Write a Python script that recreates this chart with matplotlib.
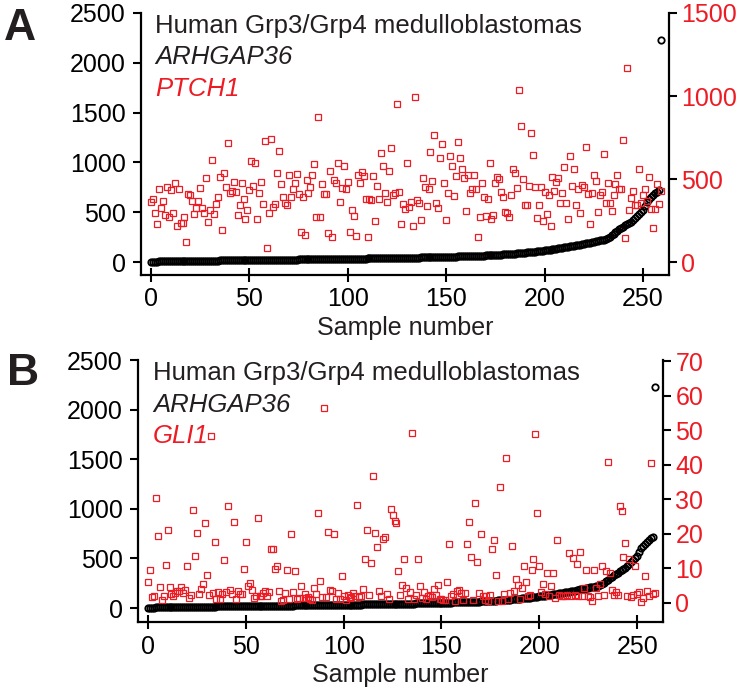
import numpy as np
import matplotlib.pyplot as plt

plt.rcParams['font.family'] = ['Liberation Sans', 'DejaVu Sans']

# ARHGAP36 expression, samples sorted ascending (left axis, both panels)
arhgap36 = [
    3, 4, 5, 5, 6, 6, 7, 7, 8, 8,
    9, 9, 9, 10, 10, 10, 11, 11, 11, 12,
    12, 12, 12, 13, 13, 13, 13, 14, 14, 14,
    14, 15, 15, 15, 15, 16, 16, 16, 16, 17,
    17, 17, 17, 18, 18, 18, 18, 19, 19, 19,
    19, 20, 20, 20, 20, 21, 21, 21, 21, 22,
    22, 22, 22, 23, 23, 23, 23, 24, 24, 24,
    24, 25, 25, 25, 25, 26, 26, 26, 26, 27,
    27, 27, 27, 28, 28, 28, 28, 29, 29, 29,
    29, 30, 30, 30, 30, 31, 31, 31, 32, 32,
    32, 33, 33, 33, 34, 34, 34, 35, 35, 35,
    36, 36, 36, 37, 37, 37, 38, 38, 38, 39,
    39, 39, 40, 40, 40, 41, 41, 42, 42, 42,
    43, 43, 44, 44, 45, 45, 45, 46, 46, 47,
    47, 48, 48, 49, 49, 50, 50, 51, 51, 52,
    52, 53, 53, 54, 54, 55, 56, 56, 57, 57,
    58, 59, 59, 60, 61, 62, 62, 63, 64, 65,
    66, 67, 68, 69, 70, 71, 72, 74, 75, 76,
    78, 79, 81, 82, 84, 85, 87, 89, 91, 93,
    95, 97, 99, 101, 103, 105, 107, 109, 112, 114,
    117, 119, 122, 125, 128, 131, 134, 137, 140, 143,
    147, 150, 153, 157, 160, 164, 168, 171, 175, 179,
    183, 187, 191, 195, 199, 203, 207, 211, 216, 220,
    225, 230, 240, 255, 270, 285, 300, 315, 330, 345,
    355, 370, 385, 395, 405, 420, 440, 460, 480, 500,
    520, 560, 600, 630, 650, 670, 690, 705, 720, 2230,
]

# PTCH1 expression (right axis, panel A)
ptch1 = [
    363, 377, 297, 229, 437, 323, 369, 285, 450, 269,
    432, 297, 474, 217, 441, 233, 237, 273, 120, 407,
    403, 369, 289, 323, 369, 444, 323, 297, 504, 243,
    313, 612, 289, 349, 389, 510, 193, 536, 454, 718,
    413, 427, 484, 419, 285, 345, 474, 377, 257, 313,
    433, 610, 458, 598, 261, 413, 484, 347, 728, 82,
    293, 742, 333, 349, 534, 666, 470, 389, 353, 343,
    524, 393, 441, 474, 528, 407, 179, 393, 163, 494,
    417, 454, 524, 588, 273, 871,
    273, 470, 407, 407, 176, 550, 149, 496, 477, 598,
    359, 447, 576, 439, 482, 179, 313, 277, 155, 522,
    476, 544, 518, 381, 152, 377, 373, 516, 247, 459,
    379, 658, 580, 413, 363, 550, 688, 405, 413, 949,
    421, 229, 349, 317, 596, 331, 361, 219, 991, 373,
    353, 251, 507, 450, 337, 439, 662, 486, 765, 357,
    325, 626, 712, 474, 251, 415, 638, 580, 399, 520,
    720, 626, 560, 507, 309, 522, 417, 439, 522, 441,
    152, 269, 476, 393, 275, 377, 594, 259, 283, 477,
    514,
    498, 421, 389, 301, 293, 269, 405, 558, 534, 444,
    1035, 819, 501, 345, 341, 456, 775, 646, 452, 263,
    345, 452, 247, 421, 291, 403, 215, 510, 426, 483,
    506, 353, 417, 570, 355, 261, 638, 456, 558, 345,
    441, 297, 462, 453, 690, 411, 229, 413, 526, 486,
    299, 401, 421, 648, 357, 477, 357, 307, 403, 470,
    524, 439, 439, 736, 144, 1168, 313, 385, 427, 341,
    343, 558, 357, 403, 439, 369, 514, 321, 203, 317,
    470, 349, 427,
]

# GLI1 expression (right axis, panel B)
gli1 = [
    6.2, 9.4, 1.8, 2.0, 30.5, 19.5, 4.5, 0.8, 2.0, 11.0,
    21.0, 4.7, 2.7, 2.0, 2.8, 3.4, 3.4, 4.5, 2.8, 3.8,
    10.6, 1.4, 2.2, 26.9, 13.7, 20.2, 2.5, 4.0, 5.6, 23.2,
    8.0, 2.3, 48.3, 2.8, 17.6, 1.2, 3.2, 1.1, 2.7, 12.4,
    3.2, 28.0, 3.8, 2.7, 23.4, 1.1, 3.6, 2.5, 2.7, 9.8,
    17.6, 5.0, 5.9, 3.9, 1.4, 2.0, 24.7, 2.0, 2.0, 2.8,
    3.6, 2.0,
    3.3, 15.5, 15.7, 9.8, 10.8, 3.4, 0.7, 0.9, 3.0, 9.5,
    1.2, 19.9, 3.1, 9.2, 1.2, 1.3, 4.8, 1.4, 2.6, 1.4,
    1.8, 1.1, 0.8, 4.3, 2.7, 25.9, 6.3, 1.8, 56.4, 1.7,
    20.6, 3.8, 3.4, 19.9, 1.1, 2.9, 1.1, 7.8, 2.0, 1.0,
    2.2, 1.5, 1.8, 3.0, 1.9, 28.4, 1.8, 2.1, 4.0, 12.7,
    21.0, 2.3, 11.5, 36.7, 20.2, 16.3, 3.4, 1.9, 18.4, 19.1,
    2.7, 1.2, 27.3, 25.5, 23.7,
    23.2, 9.3, 2.3, 5.3, 12.8, 4.3, 1.2, 3.2, 49.3, 1.1,
    2.4, 12.7, 5.0, 1.3, 3.2, 1.2, 2.0, 2.3, 1.8, 4.0,
    2.3, 5.2, 1.2, 1.2, 0.9, 0.9, 6.2, 17.2, 2.0, 2.7,
    0.6, 3.4, 3.7, 3.0, 0.9, 2.8, 17.1, 23.4, 13.4, 0.9,
    28.8, 11.9, 3.0, 20.0, 2.0, 0.9, 2.0, 0.5, 2.2, 15.7,
    18.1, 8.0, 0.7, 33.6, 0.7, 2.5, 42.0, 1.1, 2.8, 16.6,
    3.6, 6.9, 5.1,
    1.2, 4.3, 10.8, 6.2, 2.0, 2.3, 9.5, 12.6, 48.9, 26.1,
    10.8, 3.3, 5.6, 2.7, 8.8, 2.0, 5.0, 8.8, 1.3, 18.2,
    2.3, 2.0, 2.0, 2.0, 2.3, 14.6, 2.0, 13.1, 2.3, 11.4,
    2.0, 14.8, 2.0, 4.3, 9.5, 2.0, 1.8, 0.7, 9.5, 4.3,
    2.0, 5.5, 10.7, 2.3, 9.3, 40.8, 8.6, 3.8, 2.3, 3.2,
    2.3, 28.1, 26.6, 13.4, 17.4, 2.0, 12.6, 1.8, 2.3, 10.8,
    2.5, 3.1, 0.4, 1.3, 7.9, 3.5, 2.0, 40.6, 2.5, 2.8,
]

samples = np.arange(len(arhgap36))

RED = '#ED1C24'
DARK = '#231F20'
W, H = 746, 692

fig = plt.figure(figsize=(W / 100, H / 100), dpi=100)


def px(x, y):
    return x / W, 1 - y / H


def draw_panel(box, left_lim, right_vals, right_lim, right_ticks, gene, letter, letter_xy, text_x, baselines):
    x0, y0, x1, y1 = box
    ax = fig.add_axes([x0 / W, 1 - y1 / H, (x1 - x0) / W, (y1 - y0) / H])
    ax.plot(samples, arhgap36, 'o', ms=4.6, mfc='none', mec='black', mew=1.3, clip_on=False)
    ax.set_xlim(-5.1, 263.2)
    ax.set_ylim(*left_lim)
    ax.set_xticks([0, 50, 100, 150, 200, 250])
    ax.set_yticks([0, 500, 1000, 1500, 2000, 2500])
    ax.tick_params(axis='y', direction='out', length=6, width=1.5, labelsize=18, pad=5)
    ax.tick_params(axis='x', direction='inout', length=10, width=1.5, labelsize=18, pad=4)
    ax.set_xlabel('Sample number', fontsize=18, color=DARK, labelpad=3)

    ax2 = ax.twinx()
    ax2.plot(samples, right_vals, 's', ms=4.8, mfc='none', mec=RED, mew=0.9, clip_on=False)
    ax2.set_ylim(*right_lim)
    ax2.set_yticks(right_ticks)
    ax2.tick_params(axis='y', direction='out', length=6, width=1.5, labelsize=18, pad=3,
                    labelcolor=RED, color='black')

    ax.spines['top'].set_visible(False)
    ax.spines['right'].set_visible(False)
    ax2.spines['top'].set_visible(False)
    ax2.spines['left'].set_visible(False)
    ax2.spines['bottom'].set_visible(False)
    for sp in ('left', 'bottom'):
        ax.spines[sp].set_linewidth(1.6)
    ax2.spines['right'].set_linewidth(1.6)

    fig.text(*px(*letter_xy), letter, fontsize=32, fontweight='bold', color=DARK, va='baseline')
    fig.text(*px(text_x, baselines[0]), 'Human Grp3/Grp4 medulloblastomas', fontsize=18.5,
             color=DARK, va='baseline')
    fig.text(*px(text_x, baselines[1]), 'ARHGAP36', fontsize=18.5, style='italic',
             color=DARK, va='baseline')
    fig.text(*px(text_x, baselines[2]), gene, fontsize=18.5, style='italic',
             color=RED, va='baseline')


draw_panel((141, 13, 669, 275), (-130.5, 2500), ptch1, (-78.3, 1500), [0, 500, 1000, 1500],
           'PTCH1', 'A', (4, 40), 155, (33, 64, 96))
draw_panel((138, 360, 663, 622), (-141, 2500), gli1, (-5.5, 70.3), list(range(0, 71, 10)),
           'GLI1', 'B', (7, 385), 153, (380, 412, 443))

fig.savefig('out.png', dpi=100)
